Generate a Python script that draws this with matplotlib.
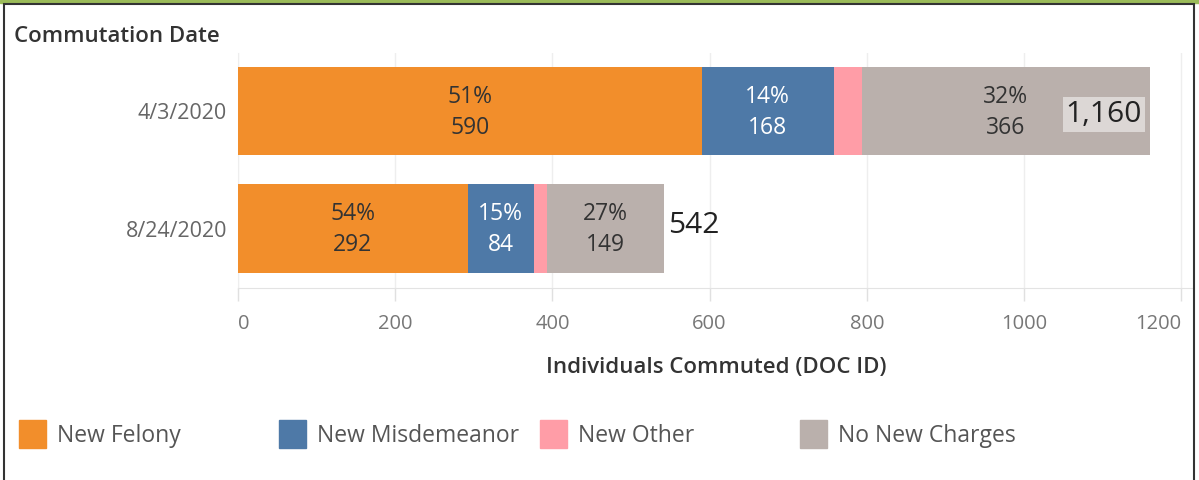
import matplotlib
matplotlib.use("Agg")
import matplotlib.pyplot as plt
from matplotlib.patches import Rectangle

# ------------------ Data ------------------
dates = ["4/3/2020", "8/24/2020"]
categories = ["New Felony", "New Misdemeanor", "New Other", "No New Charges"]
felony = [590, 292]
misdemeanor = [168, 84]
other = [36, 17]
no_new = [366, 149]
pct_felony = ["51%", "54%"]
pct_misdemeanor = ["14%", "15%"]
pct_no_new = ["32%", "27%"]
totals = [1160, 542]
x_ticks = [0, 200, 400, 600, 800, 1000, 1200]

colors = ["#F28E2B", "#4E79A7", "#FF9DA7", "#BAB0AC"]
text_colors = ["#333333", "#FFFFFF", "#333333", "#333333"]

plt.rcParams["font.family"] = ["Open Sans", "DejaVu Sans"]

W, H = 1199, 480
fig = plt.figure(figsize=(W / 100, H / 100), dpi=100)

# axes placed in pixel terms
ax_left, ax_right, ax_top, ax_bottom = 238, 1193, 53, 288
ax = fig.add_axes([ax_left / W, 1 - ax_bottom / H, (ax_right - ax_left) / W, (ax_bottom - ax_top) / H])

y = [0, 1]
series = [felony, misdemeanor, other, no_new]
labels = [pct_felony, pct_misdemeanor, None, pct_no_new]
left = [0, 0]
for vals, col, tcol, pct in zip(series, colors, text_colors, labels):
    ax.barh(y, vals, left=left, height=0.75, color=col, zorder=3)
    if pct is not None:
        for i in range(len(y)):
            ax.text(left[i] + vals[i] / 2, y[i] + 0.01, pct[i] + "\n" + str(vals[i]),
                    ha="center", va="center", fontsize=16.5, color=tcol,
                    linespacing=1.4, zorder=4)
    left = [l + v for l, v in zip(left, vals)]

# totals
ax.text(totals[0] - 10, y[0] + 0.03, "{:,}".format(totals[0]), ha="right", va="center",
        fontsize=21.5, color="#222222", zorder=5,
        bbox=dict(boxstyle="square,pad=0.1", fc="#DCD7D5", ec="none"))
ax.text(totals[1] + 5, y[1] - 0.03, "{:,}".format(totals[1]), ha="left", va="center",
        fontsize=21.5, color="#222222", zorder=5)

ax.set_xlim(0, 1215)
ax.set_ylim(1.506, -0.494)
ax.set_yticks(y)
ax.set_yticklabels(dates)
ax.tick_params(axis="y", length=0, pad=8, labelsize=15.5, labelcolor="#666666")
ax.set_xticks(x_ticks)
ax.set_xticklabels([str(t) for t in x_ticks])
ax.tick_params(axis="x", length=9, width=1, color="#E0E0E0", pad=10, labelsize=14.5, labelcolor="#777777")
xl = ax.get_xticklabels()
xl[0].set_ha("left")
xl[-1].set_ha("right")

ax.grid(axis="x", color="#EEEEEE", linewidth=1, zorder=0)
for s in ["top", "right"]:
    ax.spines[s].set_visible(False)
ax.spines["bottom"].set_color("#E3E3E3")
ax.spines["left"].set_color("#EEEEEE")

ax.set_xlabel("Individuals Commuted (DOC ID)", fontsize=16, color="#333333",
              fontweight="semibold", va="center")
ax.xaxis.set_label_coords((716 - ax_left) / (ax_right - ax_left), -(367 - ax_bottom) / (ax_bottom - ax_top))

fig.text(14 / W, 1 - 37 / H, "Commutation Date", ha="left", va="center",
         fontsize=16, fontweight="semibold", color="#333333")

# legend drawn manually
leg_x = [19, 279, 540, 800]
for lx, col, name in zip(leg_x, colors, categories):
    fig.patches.append(Rectangle((lx / W, 1 - 448 / H), 27 / W, 28 / H,
                                 transform=fig.transFigure, color=col))
    fig.text((lx + 38) / W, 1 - 436 / H, name, ha="left", va="center",
             fontsize=16.5, color="#555555")

# frame around the dashboard
fig.patches.append(Rectangle((0, 1 - 3 / H), 1, 3 / H, transform=fig.transFigure,
                             color="#9BBB59", zorder=10))
fig.patches.append(Rectangle((4 / W, -0.01), (1194 - 4) / W, 1 - 4 / H + 0.01,
                             transform=fig.transFigure, fill=False,
                             ec="#333333", lw=1.5, zorder=10))

fig.savefig("out.png", dpi=100, facecolor="white")
